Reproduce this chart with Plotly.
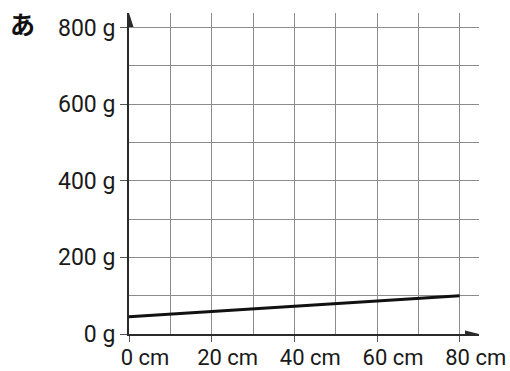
import plotly.graph_objects as go

# ---- data ----
length_cm = [0, 80]
weight_g = [45, 100]
x_tick_vals = [0, 20, 40, 60, 80]
x_tick_text = ["0 cm", "20 cm", "40 cm", "60 cm", "80 cm"]
y_tick_vals = [0, 200, 400, 600, 800]
y_tick_text = ["0 g", "200 g", "400 g", "600 g", "800 g"]
panel_label = "あ"

# ---- layout constants ----
W, H = 510, 371
L, R, T, B = 129, 31, 13, 37
XMAX = 84.67
YMAX = 838
GRID = "#8c8c8c"
AXIS = "#2a2a2a"
FONT = "Roboto, sans-serif"

fig = go.Figure(
    go.Scatter(x=length_cm, y=weight_g, mode="lines",
               line=dict(color="#111111", width=3), hoverinfo="skip")
)

fig.update_layout(
    width=W, height=H,
    margin=dict(l=L, r=R, t=T, b=B, autoexpand=False),
    plot_bgcolor="white", paper_bgcolor="white",
    showlegend=False,
    font=dict(family=FONT, size=23, color="#1a1a1a"),
)

fig.update_xaxes(
    range=[0, XMAX], tickmode="array", tickvals=x_tick_vals, ticktext=x_tick_text,
    ticks="outside", ticklen=6, tickwidth=1, tickcolor="#555",
    showgrid=True, gridcolor=GRID, gridwidth=1,
    minor=dict(dtick=10, tick0=0, showgrid=True, gridcolor=GRID, gridwidth=1, ticks=""),
    showline=True, linecolor=AXIS, linewidth=2, zeroline=False,
    ticklabelshift=16, ticklabelstandoff=-3, tickfont=dict(size=22), automargin=False,
)
fig.update_yaxes(
    range=[0, YMAX], tickmode="array", tickvals=y_tick_vals, ticktext=y_tick_text,
    ticks="outside", ticklen=7, tickwidth=1, tickcolor="#555",
    showgrid=True, gridcolor=GRID, gridwidth=1,
    minor=dict(dtick=100, tick0=0, showgrid=True, gridcolor=GRID, gridwidth=1, ticks=""),
    showline=True, linecolor=AXIS, linewidth=2, zeroline=False, automargin=False,
)

# arrowheads at axis ends
fig.add_shape(type="path", xref="x", yref="y", xsizemode="pixel", ysizemode="pixel",
              xanchor=XMAX, yanchor=0, path="M0,0 L-14,3.5 L-14,-3.5 Z",
              fillcolor=AXIS, line=dict(width=0), layer="above")
fig.add_shape(type="path", xref="x", yref="y", xsizemode="pixel", ysizemode="pixel",
              xanchor=0, yanchor=YMAX, path="M0,0 L-4.5,-14 L4.5,-14 Z",
              fillcolor=AXIS, line=dict(width=0), layer="above")

fig.add_annotation(text=f"<b>{panel_label}</b>", xref="paper", yref="paper",
                   x=(22 - L) / (W - L - R), y=(H - B - 23) / (H - T - B),
                   xanchor="center", yanchor="middle", showarrow=False,
                   font=dict(family="Noto Sans CJK JP", size=25, color="#111"))

fig.write_html(
    "out.html",
    config={"displayModeBar": False},
    post_script="document.body.style.margin='0';document.body.style.overflow='hidden';",
)
